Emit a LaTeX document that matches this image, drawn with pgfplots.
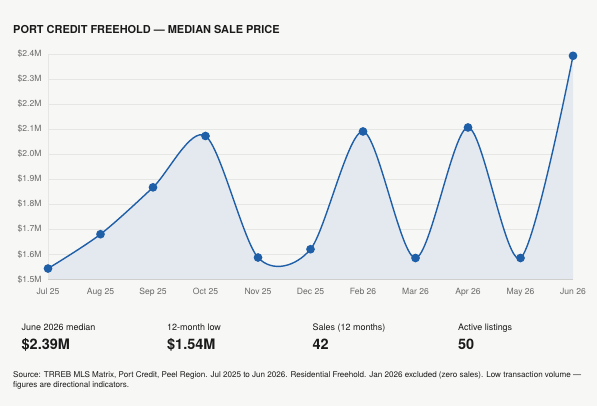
\documentclass[border=0pt]{standalone}
\usepackage{pgfplots}
\pgfplotsset{compat=1.18}
\usepackage{fontspec}
\setmainfont{TeX Gyre Heros}
\definecolor{bg}{HTML}{F7F7F5}
\definecolor{linec}{HTML}{1F5FA8}
\definecolor{fillc}{HTML}{E4E9EF}
\definecolor{gridc}{HTML}{E6E6E4}
\definecolor{tickc}{HTML}{6A6A6A}
\definecolor{txt}{HTML}{1A1A1A}
\pgfplotstableread{
x y
0 1.543
1 1.680
2 1.867
3 2.072
4 1.587
5 1.620
6 2.090
7 1.585
8 2.106
9 1.585
10 2.392
}\pricedata
\begin{document}
\begin{tikzpicture}[x=1bp,y=1bp]
\fill[bg] (0,0) rectangle (597,406);
\path[use as bounding box] (0,0) rectangle (597,406);
\node[anchor=base west, inner sep=0, text=txt, font=\bfseries\fontsize{11}{13}\selectfont] at (13,406-33) {PORT CREDIT FREEHOLD — MEDIAN SALE PRICE};
\begin{axis}[
  at={(48bp,126.7bp)}, anchor=south west,
  scale only axis, width=525bp, height=225.5bp,
  xmin=0, xmax=10, ymin=1.5, ymax=2.4,
  xtick={0,...,10},
  xticklabels={Jul 25,Aug 25,Sep 25,Oct 25,Nov 25,Dec 25,Feb 26,Mar 26,Apr 26,May 26,Jun 26},
  ytick={1.5,1.6,...,2.41},
  yticklabel={\$\pgfmathprintnumber[fixed,precision=1,fixed zerofill]{\tick}M},
  /pgf/number format/assume math mode=true,
  ticklabel style={font=\fontsize{8.6}{10}\selectfont, text=tickc},
  xticklabel style={yshift=-5bp},
  yticklabel style={xshift=-3bp},
  major tick length=0pt,
  axis line style={draw=none},
  ymajorgrids, grid style={gridc, line width=0.6bp},
  clip=false,
]
\addplot[draw=none, fill=fillc, smooth, tension=0.5] table {\pricedata} \closedcycle;
\draw[gridc, line width=0.7bp] (axis cs:0,1.5) -- (axis cs:0,2.4);
\draw[gridc!90!black, line width=0.7bp] (axis cs:0,1.5) -- (axis cs:10,1.5);
\addplot[linec, line width=1.4bp, smooth, tension=0.5, mark=*, mark size=3.6bp, mark options={fill=linec, draw=linec}] table {\pricedata};
\end{axis}
\begin{scope}[every node/.style={anchor=base west, inner sep=0}]
\node[font=\fontsize{9}{10}\selectfont, text=txt] at (21.5,406-330.7) {June 2026 median};
\node[font=\fontsize{9}{10}\selectfont, text=txt] at (167,406-330.7) {12-month low};
\node[font=\fontsize{9}{10}\selectfont, text=txt] at (312.5,406-330.7) {Sales (12 months)};
\node[font=\fontsize{9}{10}\selectfont, text=txt] at (458,406-330.7) {Active listings};
\node[font=\bfseries\fontsize{14.5}{16}\selectfont, text=txt] at (21.5,406-349.3) {\$2.39M};
\node[font=\bfseries\fontsize{14.5}{16}\selectfont, text=txt] at (167,406-349.3) {\$1.54M};
\node[font=\bfseries\fontsize{14.5}{16}\selectfont, text=txt] at (312.5,406-349.3) {42};
\node[font=\bfseries\fontsize{14.5}{16}\selectfont, text=txt] at (458,406-349.3) {50};
\node[font=\fontsize{8.1}{10}\selectfont, text=txt] at (13,406-377.3) {Source: TRREB MLS Matrix, Port Credit, Peel Region. Jul 2025 to Jun 2026. Residential Freehold. Jan 2026 excluded (zero sales). Low transaction volume —};
\node[font=\fontsize{8.1}{10}\selectfont, text=txt] at (13,406-387.3) {figures are directional indicators.};
\end{scope}
\end{tikzpicture}
\end{document}
